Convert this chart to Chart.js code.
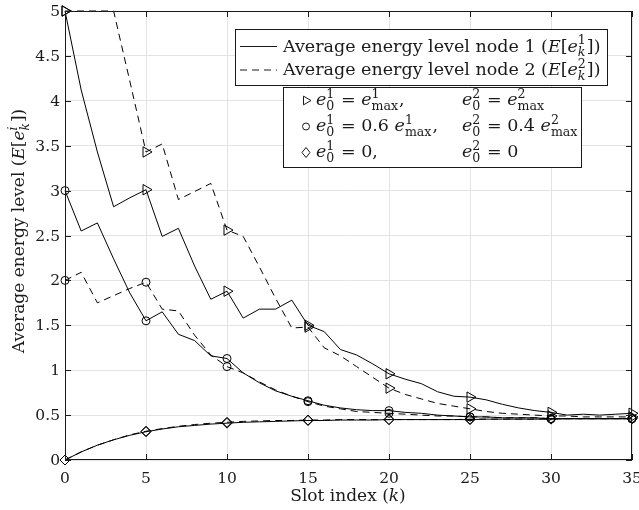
<!DOCTYPE html>
<html lang="en">
<head>
  <meta charset="UTF-8">
  <title>Average energy level</title>
  <script src="https://cdn.jsdelivr.net/npm/chart.js"></script>
  <style>
    body {
      margin: 0;
      background: #fff;
    }
    canvas {
      display: block;
    }
  </style>
</head>
<body>
  <canvas id="energyChart" width="639" height="510"></canvas>

  <script>
// slot index k
const slots = [];
for (let k = 0; k <= 35; k++) slots.push(k);

// node 1 / node 2, e0 = emax (triangles)
const node1Full = [5.00, 4.12, 3.43, 2.82, 2.92, 3.01, 2.49, 2.58, 2.16, 1.79,
  1.88, 1.58, 1.68, 1.68, 1.78, 1.50, 1.43, 1.23, 1.17, 1.07,
  0.96, 0.90, 0.85, 0.76, 0.71, 0.70, 0.67, 0.62, 0.58, 0.55,
  0.53, 0.50, 0.51, 0.50, 0.51, 0.52];
const node2Full = [5.00, 5.00, 5.00, 5.00, 4.22, 3.43, 3.52, 2.90, 2.99, 3.08,
  2.56, 2.49, 2.15, 1.80, 1.47, 1.48, 1.25, 1.16, 1.04, 0.92,
  0.80, 0.73, 0.68, 0.63, 0.60, 0.57, 0.54, 0.52, 0.51, 0.50,
  0.49, 0.49, 0.48, 0.48, 0.48, 0.48];

// node 1 e0 = 0.6 emax, node 2 e0 = 0.4 emax (circles)
const node1Mid = [3.00, 2.55, 2.64, 2.24, 1.86, 1.55, 1.65, 1.40, 1.33, 1.16,
  1.13, 0.97, 0.86, 0.77, 0.71, 0.66, 0.61, 0.58, 0.56, 0.55,
  0.55, 0.53, 0.52, 0.50, 0.49, 0.48, 0.48, 0.47, 0.47, 0.47,
  0.46, 0.46, 0.46, 0.46, 0.46, 0.46];
const node2Mid = [2.00, 2.09, 1.75, 1.83, 1.91, 1.98, 1.68, 1.66, 1.39, 1.17,
  1.04, 0.97, 0.87, 0.78, 0.71, 0.65, 0.60, 0.57, 0.54, 0.53,
  0.52, 0.51, 0.50, 0.49, 0.49, 0.48, 0.48, 0.47, 0.47, 0.47,
  0.46, 0.46, 0.46, 0.46, 0.46, 0.46];

// e0 = 0 (diamonds)
const node1Zero = [0.00, 0.09, 0.165, 0.225, 0.275, 0.315, 0.345, 0.37, 0.385, 0.40,
  0.41, 0.42, 0.425, 0.43, 0.435, 0.44, 0.44, 0.445, 0.445, 0.445,
  0.45, 0.45, 0.45, 0.45, 0.45, 0.45, 0.455, 0.455, 0.455, 0.455,
  0.455, 0.46, 0.46, 0.46, 0.46, 0.46];
const node2Zero = [0.00, 0.09, 0.165, 0.225, 0.28, 0.32, 0.35, 0.375, 0.395, 0.41,
  0.42, 0.43, 0.435, 0.44, 0.44, 0.445, 0.445, 0.45, 0.45, 0.45,
  0.45, 0.45, 0.45, 0.45, 0.45, 0.455, 0.455, 0.455, 0.455, 0.455,
  0.46, 0.46, 0.46, 0.46, 0.46, 0.46];

const xTicks = [0, 5, 10, 15, 20, 25, 30, 35];
const yTicks = [0, 0.5, 1, 1.5, 2, 2.5, 3, 3.5, 4, 4.5, 5];

const FONT = '"DejaVu Serif", serif';
const INK = "#1a1a1a";

function pts(vals) {
  return slots.map((k, i) => ({ x: k, y: vals[i] }));
}

function makeSet(vals, dashed, style) {
  return {
    data: pts(vals),
    borderColor: "#000",
    borderWidth: 1,
    borderDash: dashed ? [7, 5] : [],
    tension: 0,
    fill: false,
    clip: 10,
    pointStyle: style,
    rotation: style === "triangle" ? 90 : 0,
    pointRadius: c => c.dataIndex % 5 === 0 ? (style === "triangle" ? 6 : style === "circle" ? 4 : 5) : 0,
    pointBorderColor: "#000",
    pointBorderWidth: 1,
    pointBackgroundColor: "rgba(0,0,0,0)"
  };
}

// small rich-text helper for sub/superscripts
function fnt(size, it) {
  return (it ? "italic " : "") + size + "px " + FONT;
}
function rich(ctx, x, y, parts, size, draw) {
  let cx = x;
  parts.forEach(p => {
    if (p.sup !== undefined || p.sub !== undefined) {
      const s = size * 0.72;
      let w = 0;
      if (p.sup) {
        ctx.font = fnt(s, p.supIt);
        if (draw) ctx.fillText(p.sup, cx, y - size * 0.42);
        w = Math.max(w, ctx.measureText(p.sup).width);
      }
      if (p.sub) {
        ctx.font = fnt(s, p.subIt);
        if (draw) ctx.fillText(p.sub, cx, y + size * 0.28);
        w = Math.max(w, ctx.measureText(p.sub).width);
      }
      cx += w + 1;
    } else {
      ctx.font = fnt(size, p.it);
      if (draw) ctx.fillText(p.t, cx, y);
      cx += ctx.measureText(p.t).width;
    }
  });
  return cx - x;
}

const E_k = sup => [{ t: "E", it: true }, { t: "[" }, { t: "e", it: true }, { sup: sup, supIt: sup === "i", sub: "k", subIt: true }, { t: "])" }];
const e0 = n => [{ t: "e", it: true }, { sup: n, sub: "0" }];
const emax = n => [{ t: "e", it: true }, { sup: n, sub: "max" }];

const lineLegend = [
  { dashed: false, parts: [{ t: "Average energy level node 1 (" }].concat(E_k("1")) },
  { dashed: true, parts: [{ t: "Average energy level node 2 (" }].concat(E_k("2")) }
];
const markerLegend = [
  { style: "triangle", c1: e0("1").concat([{ t: " = " }], emax("1"), [{ t: "," }]), c2: e0("2").concat([{ t: " = " }], emax("2")) },
  { style: "circle", c1: e0("1").concat([{ t: " = 0.6 " }], emax("1"), [{ t: "," }]), c2: e0("2").concat([{ t: " = 0.4 " }], emax("2")) },
  { style: "diamond", c1: e0("1").concat([{ t: " = 0," }]), c2: e0("2").concat([{ t: " = 0" }]) }
];

function marker(ctx, style, x, y) {
  ctx.beginPath();
  if (style === "triangle") {
    const r = 5;
    ctx.moveTo(x + r, y);
    ctx.lineTo(x - r * 0.5, y - r * 0.87);
    ctx.lineTo(x - r * 0.5, y + r * 0.87);
    ctx.closePath();
  } else if (style === "circle") {
    ctx.arc(x, y, 3.5, 0, Math.PI * 2);
  } else {
    ctx.moveTo(x, y - 5);
    ctx.lineTo(x + 4, y);
    ctx.lineTo(x, y + 5);
    ctx.lineTo(x - 4, y);
    ctx.closePath();
  }
  ctx.stroke();
}

const decor = {
  id: "decor",
  afterDraw(chart) {
    const ctx = chart.ctx;
    const a = chart.chartArea;
    const xs = chart.scales.x, ys = chart.scales.y;
    ctx.save();
    ctx.strokeStyle = INK;
    ctx.fillStyle = INK;
    ctx.lineWidth = 1;

    // axes box + inward ticks
    ctx.strokeRect(a.left + 0.5, a.top + 0.5, a.right - a.left - 1, a.bottom - a.top - 1);
    ctx.beginPath();
    xTicks.forEach(v => {
      const px = Math.round(xs.getPixelForValue(v)) + 0.5;
      ctx.moveTo(px, a.bottom); ctx.lineTo(px, a.bottom - 6);
      ctx.moveTo(px, a.top); ctx.lineTo(px, a.top + 6);
    });
    yTicks.forEach(v => {
      const py = Math.round(ys.getPixelForValue(v)) + 0.5;
      ctx.moveTo(a.left, py); ctx.lineTo(a.left + 6, py);
      ctx.moveTo(a.right, py); ctx.lineTo(a.right - 6, py);
    });
    ctx.stroke();

    // tick labels
    ctx.font = fnt(15.5);
    ctx.textAlign = "center";
    xTicks.forEach(v => ctx.fillText(String(v), xs.getPixelForValue(v), a.bottom + 23));
    ctx.textAlign = "right";
    yTicks.forEach(v => ctx.fillText(String(v), a.left - 5, ys.getPixelForValue(v) + 5));
    ctx.textAlign = "left";

    // axis titles
    const xt = [{ t: "Slot index (" }, { t: "k", it: true }, { t: ")" }];
    let w = rich(ctx, 0, 0, xt, 17, false);
    rich(ctx, 348 - w / 2, 501, xt, 17, true);

    const yt = [{ t: "Average energy level (" }].concat(E_k("i"));
    w = rich(ctx, 0, 0, yt, 17, false);
    ctx.save();
    ctx.translate(24, 231);
    ctx.rotate(-Math.PI / 2);
    rich(ctx, -w / 2, 0, yt, 17, true);
    ctx.restore();

    // line-style legend
    ctx.fillStyle = "#fff";
    ctx.fillRect(235.5, 29.5, 372, 56);
    ctx.strokeRect(235.5, 29.5, 372, 56);
    ctx.fillStyle = INK;
    lineLegend.forEach((row, i) => {
      const y = 46.5 + i * 23.5;
      ctx.setLineDash(row.dashed ? [7, 5] : []);
      ctx.beginPath();
      ctx.moveTo(240, y); ctx.lineTo(277, y);
      ctx.stroke();
      ctx.setLineDash([]);
      rich(ctx, 283, y + 5, row.parts, 17.5, true);
    });

    // marker legend
    ctx.fillStyle = "#fff";
    ctx.fillRect(283.5, 87.5, 298, 80);
    ctx.strokeRect(283.5, 87.5, 298, 80);
    ctx.fillStyle = INK;
    markerLegend.forEach((row, i) => {
      const base = 105 + i * 26;
      marker(ctx, row.style, 306, base - 4.5);
      rich(ctx, 316, base, row.c1, 17.5, true);
      rich(ctx, 462, base, row.c2, 17.5, true);
    });
    ctx.restore();
  }
};

new Chart(document.getElementById("energyChart").getContext("2d"), {
  type: "line",
  data: {
    datasets: [
      makeSet(node1Full, false, "triangle"),
      makeSet(node2Full, true, "triangle"),
      makeSet(node1Mid, false, "circle"),
      makeSet(node2Mid, true, "circle"),
      makeSet(node1Zero, false, "rectRot"),
      makeSet(node2Zero, true, "rectRot")
    ]
  },
  options: {
    responsive: false,
    animation: false,
    layout: { padding: { left: 65, right: 6, top: 11, bottom: 50 } },
    plugins: {
      legend: { display: false },
      tooltip: { enabled: false }
    },
    scales: {
      x: {
        type: "linear",
        min: 0,
        max: 35,
        ticks: { stepSize: 5, display: false },
        grid: { color: "#e3e3e3", drawTicks: false },
        border: { display: false }
      },
      y: {
        min: 0,
        max: 5,
        ticks: { stepSize: 0.5, display: false },
        grid: { color: "#e3e3e3", drawTicks: false },
        border: { display: false }
      }
    }
  },
  plugins: [decor]
});
  </script>
</body>
</html>
